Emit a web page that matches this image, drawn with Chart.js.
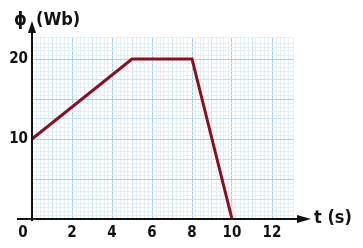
<!DOCTYPE html>
<html>
<head>
<meta charset="utf-8">
<script src="https://cdn.jsdelivr.net/npm/chart.js@4/dist/chart.umd.min.js"></script>
<style>
  html, body { margin: 0; padding: 0; background: #fff; }
  #wrap { width: 363px; height: 248px; }
</style>
</head>
<body>
<div id="wrap"><canvas id="c" width="363" height="248"></canvas></div>
<script>
const timeS = [0, 5, 8, 10];
const fluxWb = [10, 20, 20, 0];
const xLabelTicks = [2, 4, 6, 8, 10, 12];
const yLabelTicks = [10, 20];

const FONT = "'DejaVu Sans Condensed', 'DejaVu Sans', sans-serif";
const majorBlue = "#a6d0ea";
const midBlue = "#c8e2f3";
const minorBlue = "#e3eff9";

const near = (v, list) => list.some((t) => Math.abs(v - t) < 1e-6);
const isMult = (v, m) => Math.abs(v / m - Math.round(v / m)) < 1e-6;

// graph paper: major / middle / fine lines
const paperColor = (v, major, mid) =>
  isMult(v, major) ? majorBlue : isMult(v, mid) ? midBlue : minorBlue;

// axes with arrows plus the axis titles, drawn over the grid
const axesPlugin = {
  id: "axesArrows",
  afterDatasetsDraw(chart) {
    const { ctx, scales } = chart;
    const x0 = scales.x.getPixelForValue(0);
    const y0 = scales.y.getPixelForValue(0);
    ctx.save();
    ctx.strokeStyle = "#111";
    ctx.fillStyle = "#111";
    ctx.lineWidth = 2;
    // y axis
    ctx.beginPath();
    ctx.moveTo(x0, y0 + 2);
    ctx.lineTo(x0, 30);
    ctx.stroke();
    ctx.beginPath();
    ctx.moveTo(x0, 21);
    ctx.lineTo(x0 - 4, 33);
    ctx.lineTo(x0 + 4, 33);
    ctx.closePath();
    ctx.fill();
    // x axis
    ctx.beginPath();
    ctx.moveTo(17, y0);
    ctx.lineTo(300, y0);
    ctx.stroke();
    ctx.beginPath();
    ctx.moveTo(311, y0);
    ctx.lineTo(297, y0 - 4);
    ctx.lineTo(297, y0 + 4);
    ctx.closePath();
    ctx.fill();

    ctx.font = "bold 15px " + FONT;
    ctx.textBaseline = "middle";
    ctx.textAlign = "center";
    ctx.fillText("0", 23, 233);
    ctx.font = "bold 18px " + FONT;
    ctx.textAlign = "left";
    ctx.fillText("ϕ", 14, 20);
    ctx.fillText("(Wb)", 36, 20);
    ctx.fillText("t (s)", 314, 218);
    ctx.restore();
  },
};

new Chart(document.getElementById("c"), {
  type: "line",
  data: {
    datasets: [
      {
        data: timeS.map((t, i) => ({ x: t, y: fluxWb[i] })),
        borderColor: "#8c0f1e",
        borderWidth: 3,
        pointRadius: 0,
        fill: false,
        tension: 0,
      },
    ],
  },
  options: {
    responsive: false,
    animation: false,
    events: [],
    layout: { padding: { left: 0, top: 37, right: 70, bottom: 0 } },
    plugins: { legend: { display: false }, tooltip: { enabled: false } },
    scales: {
      x: {
        type: "linear",
        min: 0,
        max: 13.05,
        afterFit: (s) => { s.height = 29; },
        border: { display: false },
        grid: {
          drawTicks: false,
          lineWidth: 1,
          color: (c) => paperColor(c.tick.value, 2, 1),
        },
        ticks: {
          stepSize: 0.2,
          autoSkip: false,
          maxRotation: 0,
          padding: 5,
          color: "#111",
          font: { family: FONT, size: 15, weight: "bold" },
          callback: (v) => (near(v, xLabelTicks) ? String(Math.round(v)) : ""),
        },
      },
      y: {
        type: "linear",
        min: 0,
        max: 22.75,
        afterFit: (s) => { s.width = 32; },
        border: { display: false },
        grid: {
          drawTicks: false,
          lineWidth: 1,
          color: (c) => paperColor(c.tick.value, 5, 2.5),
        },
        ticks: {
          stepSize: 0.5,
          autoSkip: false,
          padding: 4,
          color: "#111",
          font: { family: FONT, size: 15, weight: "bold" },
          callback: (v) => (near(v, yLabelTicks) ? String(Math.round(v)) : ""),
        },
      },
    },
  },
  plugins: [axesPlugin],
});
</script>
</body>
</html>
